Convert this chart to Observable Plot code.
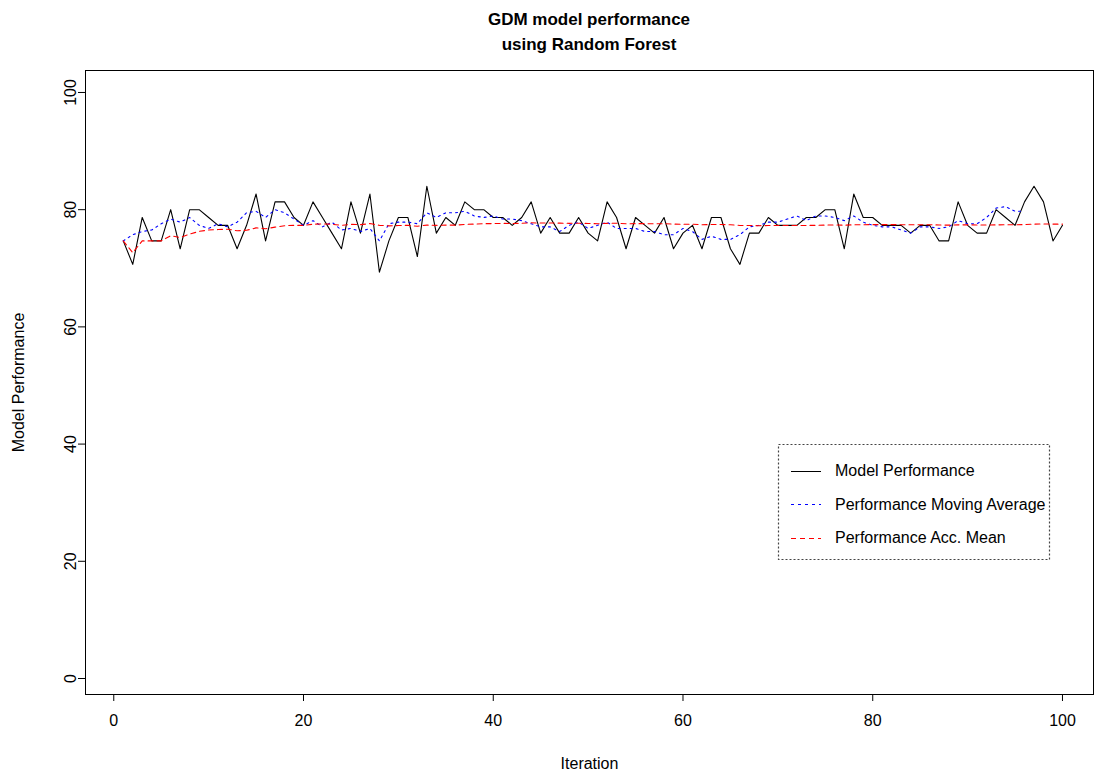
<!DOCTYPE html>
<html><head><meta charset="utf-8">
<script src="https://cdn.jsdelivr.net/npm/d3@7"></script>
<script src="https://cdn.jsdelivr.net/npm/@observablehq/plot@0.6"></script>
<style>
body{margin:0;background:#fff;font-family:"Liberation Sans",Arial,Helvetica,sans-serif;}
#wrap{position:relative;width:1096px;height:773px;overflow:hidden;}
#title{position:absolute;left:85px;width:1008px;top:7px;text-align:center;font-weight:bold;font-size:17px;line-height:25px;color:#000;}
#legend{position:absolute;left:0;top:0;}
</style></head>
<body>
<div id="wrap">
  <div id="chart"></div>
  <div id="title">GDM model performance<br>using Random Forest</div>
  <svg id="legend" width="1096" height="773"></svg>
</div>
<script>
// ---- data ----
const title = ["GDM model performance", "using Random Forest"];
const xLabel = "Iteration";
const yLabel = "Model Performance";
const xTicks = [0, 20, 40, 60, 80, 100];
const yTicks = [0, 20, 40, 60, 80, 100];
const seriesNames = ["Model Performance", "Performance Moving Average", "Performance Acc. Mean"];

const performance = [
  74.67, 70.67, 78.67, 74.67, 74.67, 80.00, 73.33, 80.00, 80.00, 78.67,
  77.33, 77.33, 73.33, 77.33, 82.67, 74.67, 81.33, 81.33, 78.67, 77.33,
  81.33, 78.67, 76.00, 73.33, 81.33, 76.00, 82.67, 69.33, 74.67, 78.67,
  78.67, 72.00, 84.00, 76.00, 78.67, 77.33, 81.33, 80.00, 80.00, 78.67,
  78.67, 77.33, 78.67, 81.33, 76.00, 78.67, 76.00, 76.00, 78.67, 76.00,
  74.67, 81.33, 78.67, 73.33, 78.67, 77.33, 76.00, 78.67, 73.33, 76.00,
  77.33, 73.33, 78.67, 78.67, 73.33, 70.67, 76.00, 76.00, 78.67, 77.33,
  77.33, 77.33, 78.67, 78.67, 80.00, 80.00, 73.33, 82.67, 78.67, 78.67,
  77.33, 77.33, 77.33, 76.00, 77.33, 77.33, 74.67, 74.67, 81.33, 77.33,
  76.00, 76.00, 80.00, 78.67, 77.33, 81.33, 84.00, 81.33, 74.67, 77.33
];

const movingAverage = [
  74.67, 75.73, 76.27, 76.53, 77.60, 78.40, 77.87, 78.67, 77.33, 76.80,
  77.60, 77.07, 77.87, 79.47, 79.73, 78.67, 80.00, 79.47, 78.40, 77.33,
  78.13, 77.07, 77.87, 76.53, 76.80, 76.27, 76.80, 74.67, 77.60, 77.87,
  77.87, 77.60, 79.47, 78.67, 79.47, 79.47, 79.73, 78.93, 78.67, 78.93,
  78.40, 78.40, 78.13, 77.60, 77.07, 77.07, 76.27, 77.33, 77.87, 76.80,
  77.33, 77.87, 76.80, 76.80, 76.80, 76.27, 76.27, 75.73, 75.73, 76.80,
  76.27, 74.93, 75.47, 74.93, 74.93, 75.73, 77.07, 77.33, 77.87, 77.87,
  78.40, 78.93, 78.13, 78.93, 78.93, 78.67, 78.13, 78.93, 77.87, 77.33,
  77.07, 77.07, 76.53, 76.00, 77.07, 77.07, 76.80, 77.07, 78.13, 77.60,
  77.60, 78.67, 80.27, 80.53, 79.73, 79.73
];

const accMean = [
  74.67, 72.67, 74.67, 74.67, 74.67, 75.56, 75.24, 75.83, 76.30, 76.53,
  76.61, 76.67, 76.41, 76.48, 76.89, 76.75, 77.02, 77.26, 77.33, 77.33,
  77.52, 77.58, 77.51, 77.33, 77.49, 77.44, 77.63, 77.33, 77.24, 77.29,
  77.33, 77.17, 77.37, 77.33, 77.37, 77.37, 77.48, 77.54, 77.61, 77.63,
  77.66, 77.65, 77.67, 77.76, 77.72, 77.74, 77.70, 77.67, 77.69, 77.65,
  77.59, 77.67, 77.69, 77.60, 77.62, 77.62, 77.59, 77.61, 77.54, 77.51,
  77.51, 77.44, 77.46, 77.48, 77.42, 77.31, 77.29, 77.27, 77.29, 77.30,
  77.30, 77.30, 77.31, 77.33, 77.37, 77.40, 77.35, 77.42, 77.43, 77.45,
  77.45, 77.45, 77.44, 77.43, 77.43, 77.43, 77.39, 77.36, 77.41, 77.41,
  77.39, 77.38, 77.41, 77.42, 77.42, 77.46, 77.53, 77.56, 77.54, 77.53
];

// ---- build tables ----
const perfData = performance.map((v, i) => ({iteration: i + 1, value: v}));
const maData = movingAverage.map((v, i) => ({iteration: i + 1, value: v}));
const accData = accMean.map((v, i) => ({iteration: i + 1, value: v}));

const font = "Liberation Sans, Arial, Helvetica, sans-serif";
const chart = Plot.plot({
  width: 1096,
  height: 773,
  marginLeft: 85,
  marginRight: 3,
  marginTop: 70,
  marginBottom: 79,
  style: {fontFamily: font, fontSize: "16px", color: "#000", background: "#fff", overflow: "visible"},
  x: {domain: [-2.98, 103.27]},
  y: {domain: [-2.73, 103.75]},
  marks: [
    Plot.frame({stroke: "#000", strokeWidth: 1}),
    Plot.axisX({ticks: xTicks, tickSize: 7, tickFormat: () => "", label: null, stroke: "#000"}),
    Plot.axisY({ticks: yTicks, tickSize: 7, tickFormat: () => "", label: null, stroke: "#000"}),
    Plot.text(xTicks, {x: d => d, frameAnchor: "bottom", dy: 26, text: d => String(d), lineAnchor: "middle", fontSize: 16, fill: "#000"}),
    Plot.text(yTicks, {y: d => d, frameAnchor: "left", dx: -15, text: d => String(d), rotate: -90, textAnchor: "middle", lineAnchor: "middle", fontSize: 16, fill: "#000"}),
    Plot.text([xLabel], {frameAnchor: "bottom", dy: 69, lineAnchor: "middle", fontSize: 16, fill: "#000"}),
    Plot.text([yLabel], {frameAnchor: "left", dx: -67, rotate: -90, textAnchor: "middle", lineAnchor: "middle", fontSize: 16, fill: "#000"}),
    Plot.lineY(perfData, {x: "iteration", y: "value", stroke: "#000", strokeWidth: 1.1}),
    Plot.lineY(maData, {x: "iteration", y: "value", stroke: "#0000ff", strokeWidth: 1.1, strokeDasharray: "2,4"}),
    Plot.lineY(accData, {x: "iteration", y: "value", stroke: "#ff0000", strokeWidth: 1.1, strokeDasharray: "5,4"})
  ]
});
document.getElementById("chart").appendChild(chart);

// ---- legend (R-style boxed legend) ----
const lg = d3.select("#legend");
lg.append("rect").attr("x", 778.5).attr("y", 444.5).attr("width", 271).attr("height", 115)
  .attr("fill", "none").attr("stroke", "#444").attr("stroke-width", 1.2).attr("stroke-dasharray", "2,2");
const styles = [
  {stroke: "#000", dash: null},
  {stroke: "#0000ff", dash: "3,4"},
  {stroke: "#ff0000", dash: "5,4"}
];
seriesNames.forEach((name, i) => {
  const cy = 470.5 + i * 33.5;
  lg.append("line").attr("x1", 791).attr("x2", 821).attr("y1", Math.round(cy) + 0.5).attr("y2", Math.round(cy) + 0.5)
    .attr("stroke", styles[i].stroke).attr("stroke-width", 1)
    .attr("stroke-dasharray", styles[i].dash);
  lg.append("text").attr("x", 835).attr("y", cy).attr("dy", "0.35em")
    .attr("font-family", font).attr("font-size", 16).attr("fill", "#000").text(name);
});
</script>
</body></html>
